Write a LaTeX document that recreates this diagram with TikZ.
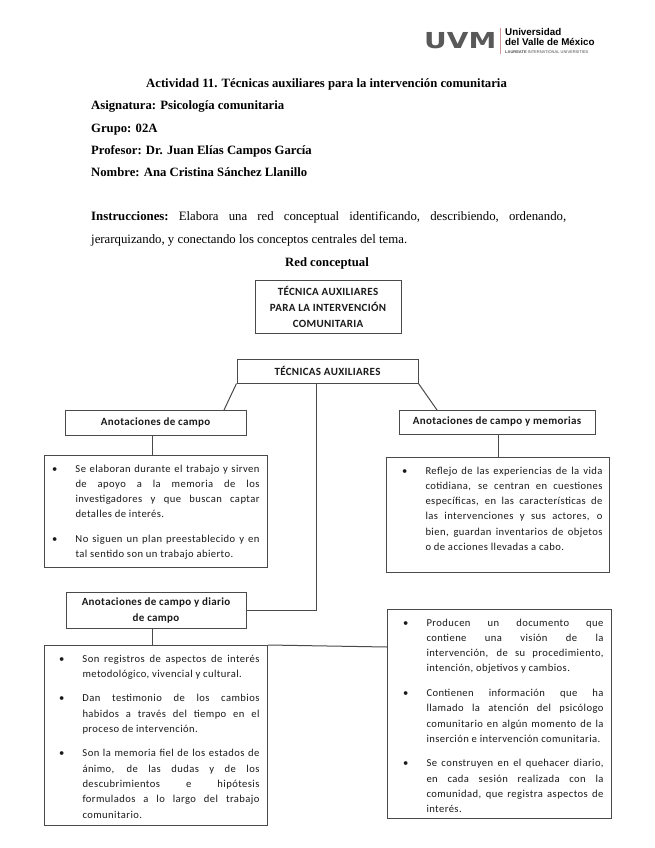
\documentclass[tikz,border=0pt]{standalone}
\usepackage{fontspec}
\usepackage{graphicx}
\setmainfont{Liberation Serif}
\newfontfamily\boxfont[LetterSpace=4]{Carlito}
\newfontfamily\headfont[LetterSpace=3]{Carlito}
\newfontfamily\logofont{DejaVu Sans}
\newfontfamily\logosans{Liberation Sans}
\definecolor{linegray}{HTML}{4A4A4A}
\definecolor{inkc}{HTML}{1A1A1A}
\newcommand\listbox[5]{\parbox[t][#2pt][t]{#1pt}{\leftskip=#3pt\rightskip=#4pt\parindent=0pt\parskip=9.2pt\boxfont\fontsize{10.6}{15.3}\selectfont\vspace*{0pt}\par #5}}
\newcommand\bul[1][18]{\leavevmode\llap{\textbullet\hskip #1pt}}
\tikzset{
  x=1pt,y=-1pt,
  boxed/.style={draw=linegray,line width=1pt,fill=white,inner sep=0pt,align=center,text=inkc},
  head/.style={font=\headfont\bfseries\fontsize{11}{16}\selectfont},
  listb/.style={draw=linegray,line width=1pt,fill=white,inner sep=0pt,anchor=north west,text=inkc},
  conn/.style={draw=linegray,line width=1pt},
  hline/.style={anchor=base west,inner sep=0pt,text=black,font=\bfseries\fontsize{12.7}{14}\selectfont},
}
\begin{document}
\begin{tikzpicture}
\useasboundingbox (0,0) rectangle (655,848);
\fill[white] (0,0) rectangle (655,848);
% logo
\node[anchor=west,inner sep=0pt,text=black!65] (uvm) at (424,41) {\logofont\bfseries\fontsize{22}{22}\selectfont\scalebox{1.27}[1]{UVM}};
\draw[red!40!gray!60,line width=.7pt] (500,28) -- (500,54);
\node[anchor=west,inner sep=0pt] (l1) at (505,32) {\logosans\bfseries\fontsize{9.8}{10}\selectfont Universidad};
\node[anchor=west,inner sep=0pt] (l2) at (505,42) {\logosans\bfseries\fontsize{9.8}{10}\selectfont del Valle de México};
\node[anchor=west,inner sep=0pt,text=black!70] (l3) at (505,52) {\logosans\fontsize{4}{5}\selectfont\textbf{LAUREATE} INTERNATIONAL UNIVERSITIES};
% header
\node[hline] (t0) at (146,88) {Actividad 11. Técnicas auxiliares para la intervención comunitaria};
\node[hline] (t1) at (91,110) {Asignatura: Psicología comunitaria};
\node[hline] (t2) at (91,132) {Grupo: 02A};
\node[hline] (t3) at (91,154) {Profesor: Dr. Juan Elías Campos García};
\node[hline] (t4) at (91,176) {Nombre: Ana Cristina Sánchez Llanillo};
\node[anchor=base west,inner sep=0pt,font=\fontsize{12.8}{14}\selectfont] (t5) at (91,220) {\hbox to 475pt{\textbf{Instrucciones:}\hfill Elabora\hfill una\hfill red\hfill conceptual\hfill identificando,\hfill describiendo,\hfill ordenando,}};
\node[anchor=base west,inner sep=0pt,font=\fontsize{12.8}{14}\selectfont] (t6) at (91,243) {jerarquizando, y conectando los conceptos centrales del tema.};
\node[hline,anchor=base] (t7) at (327,266) {Red conceptual};
% boxes
\node[boxed,head,minimum width=146pt,minimum height=53pt] (top) at (328,307) {TÉCNICA AUXILIARES\\PARA LA INTERVENCIÓN\\COMUNITARIA};
\node[boxed,head,minimum width=181pt,minimum height=24pt] (tec) at (327.5,371) {TÉCNICAS AUXILIARES};
\node[boxed,head,minimum width=181pt,minimum height=25pt] (ac) at (155.5,422.5) {Anotaciones de campo};
\node[boxed,head,minimum width=196pt,minimum height=24pt] (acm) at (497,422) {Anotaciones de campo y memorias};
\node[boxed,head,minimum width=180pt,minimum height=36pt] (acd) at (156,610) {Anotaciones de campo y diario\\de campo};
\node[listb] (b1) at (44,455) {\listbox{223}{112}{31}{8}{\bul Se elaboran durante el trabajo y sirven\linebreak de apoyo a la memoria de los\linebreak investigadores y que buscan captar\linebreak detalles de interés.\par\bul No siguen un plan preestablecido y en\linebreak tal sentido son un trabajo abierto.}};
\node[listb] (b2) at (386,457) {\listbox{223}{115}{39}{7}{\bul Reflejo de las experiencias de la vida\linebreak cotidiana, se centran en cuestiones\linebreak específicas, en las características de\linebreak las intervenciones y sus actores, o\linebreak bien, guardan inventarios de objetos\linebreak o de acciones llevadas a cabo.}};
\node[listb] (b3) at (44,645) {\listbox{223}{180}{38}{8}{\bul Son registros de aspectos de interés\linebreak metodológico, vivencial y cultural.\par\bul Dan testimonio de los cambios\linebreak habidos a través del tiempo en el\linebreak proceso de intervención.\par\bul Son la memoria fiel de los estados de\linebreak ánimo, de las dudas y de los\linebreak descubrimientos e hipótesis\linebreak formulados a lo largo del trabajo\linebreak comunitario.}};
\node[listb] (b4) at (387,609) {\listbox{224}{209}{39}{8}{\bul Producen un documento que\linebreak contiene una visión de la\linebreak intervención, de su procedimiento,\linebreak intención, objetivos y cambios.\par\bul Contienen información que ha\linebreak llamado la atención del psicólogo\linebreak comunitario en algún momento de la\linebreak inserción e intervención comunitaria.\par\bul Se construyen en el quehacer diario,\linebreak en cada sesión realizada con la\linebreak comunidad, que registra aspectos de\linebreak interés.}};
% connectors
\coordinate (acj) at (224,410);
\coordinate (acmj) at (437,410);
\coordinate (mid) at (316,384);
\coordinate (b4j) at (387,647);
\draw[conn] (tec.south west) -- (acj);
\draw[conn] (tec.south east) -- (acmj);
\draw[conn] (mid) |- (acd.east);
\draw[conn] (ac.south -| b1.north) ++(-3.5,0) -- ++(0,20);
\draw[conn] (acm.south) ++(1,0) -- ++(0,23);
\draw[conn] (acd.south -| 152,0) -- (b3.north -| 152,0);
\draw[conn] (b3.north east) -- (b4j);
\end{tikzpicture}
\end{document}
